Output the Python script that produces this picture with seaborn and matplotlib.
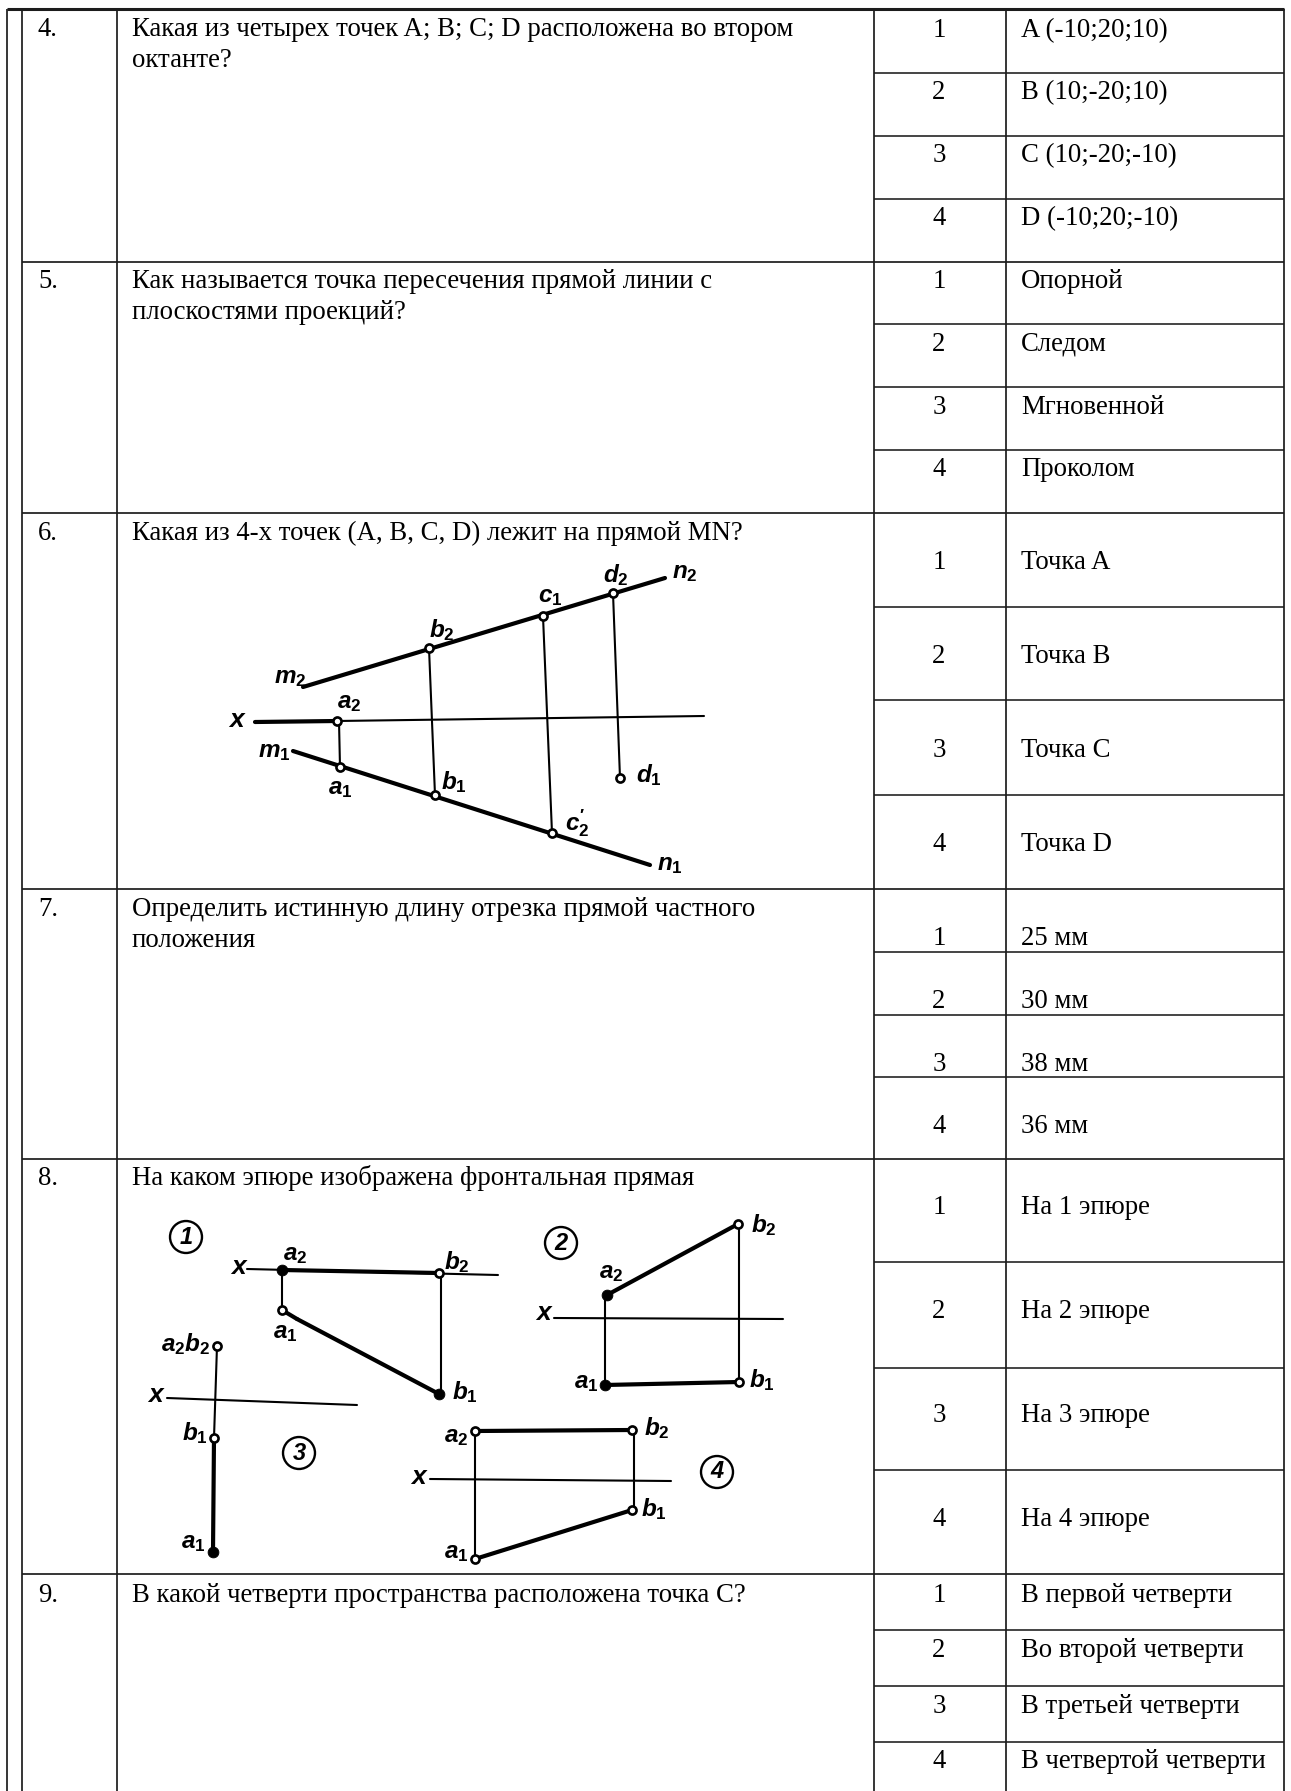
import matplotlib
matplotlib.use('Agg')
import matplotlib.pyplot as plt
import pandas as pd
import seaborn as sns

sns.set_theme(style='white')
plt.rcParams['font.family'] = ['Liberation Serif', 'DejaVu Serif']
plt.rcParams['mathtext.fontset'] = 'custom'
plt.rcParams['mathtext.it'] = 'Liberation Sans:italic:bold'
plt.rcParams['mathtext.rm'] = 'Liberation Sans:bold'

# table rulings, in pixels of the page
col_x = [7, 22, 117, 874, 1006, 1284]
row_y = [262, 513, 889, 1159, 1574]
option_y = [[73, 136, 199], [324, 387, 450], [607, 700, 795],
            [952, 1015, 1077], [1262, 1368, 1470], [1630, 1686, 1742]]

# questions
numbers = ['4.', '5.', '6.', '7.', '8.', '9.']
number_y = [36, 288, 540, 916, 1185, 1602]
questions = [
    'Какая из четырех точек A; B; C; D расположена во втором\nоктанте?',
    'Как называется точка пересечения прямой линии с\nплоскостями проекций?',
    'Какая из 4-х точек (A, B, C, D) лежит на прямой MN?',
    'Определить истинную длину отрезка прямой частного\nположения',
    'На каком эпюре изображена фронтальная прямая',
    'В какой четверти пространства расположена точка С?',
]

# answers
answers = [
    ['A (-10;20;10)', 'B (10;-20;10)', 'C (10;-20;-10)', 'D (-10;20;-10)'],
    ['Опорной', 'Следом', 'Мгновенной', 'Проколом'],
    ['Точка A', 'Точка B', 'Точка C', 'Точка D'],
    ['25 мм', '30 мм', '38 мм', '36 мм'],
    ['На 1 эпюре', 'На 2 эпюре', 'На 3 эпюре', 'На 4 эпюре'],
    ['В первой четверти', 'Во второй четверти', 'В третьей четверти', 'В четвертой четверти'],
]
answer_y = [[37, 99, 162, 225], [288, 351, 414, 476], [569, 663, 757, 851],
            [945, 1008, 1071, 1133], [1214, 1318, 1422, 1526], [1602, 1657, 1713, 1768]]

# drawings: x0, y0, x1, y1
thick_lines = [
    # question 6
    (303, 687, 665, 578), (293, 751, 650, 865), (255, 722, 337, 721),
    # question 8, plot 1
    (282, 1270, 439, 1273), (282, 1310, 297, 1319), (297, 1319, 439, 1394),
    # plot 2
    (607, 1295, 738, 1224), (605, 1385, 739, 1382),
    # plot 3
    (214, 1438, 213, 1552),
    # plot 4
    (475, 1431, 632, 1430), (475, 1559, 632, 1510),
]
thin_lines = [
    (337, 721, 704, 716), (339, 721, 340, 767), (429, 648, 435, 795),
    (543, 616, 552, 833), (613, 593, 620, 778),
    (247, 1269, 498, 1275), (282, 1270, 282, 1310), (441, 1273, 441, 1394),
    (554, 1318, 783, 1319), (605, 1295, 605, 1385), (739, 1224, 739, 1382),
    (167, 1398, 357, 1405), (217, 1346, 214, 1438),
    (430, 1479, 671, 1481), (475, 1431, 475, 1559), (634, 1430, 634, 1510),
]
open_x = [429, 543, 613, 337, 340, 435, 552, 620,
          439, 282, 738, 739, 217, 214, 475, 632, 632, 475]
open_y = [648, 616, 593, 721, 767, 795, 833, 778,
          1273, 1310, 1224, 1382, 1346, 1438, 1431, 1430, 1510, 1559]
solid_x = [282, 439, 607, 605, 213]
solid_y = [1270, 1394, 1295, 1385, 1552]
circle_x = [186, 561, 299, 717]
circle_y = [1237, 1243, 1453, 1472]
circle_text = ['1', '2', '3', '4']

labels = ['x', 'm_2', 'a_2', 'b_2', 'c_1', 'd_2', 'n_2', 'm_1', 'a_1', 'b_1', 'c_2^{\\prime}', 'd_1', 'n_1',
          'x', 'a_2', 'b_2', 'a_1', 'b_1',
          'x', 'a_2', 'b_2', 'a_1', 'b_1',
          'x', 'a_2b_2', 'b_1', 'a_1',
          'x', 'a_2', 'b_2', 'a_1', 'b_1']
label_x = [236, 290, 349, 442, 550, 616, 685, 274, 340, 454, 577, 649, 670,
           238, 295, 457, 285, 465,
           543, 611, 764, 586, 762,
           155, 186, 195, 193,
           418, 456, 657, 456, 654]
label_y = [720, 678, 703, 630, 597, 575, 573, 752, 788, 782, 823, 775, 865,
           1267, 1255, 1262, 1333, 1392,
           1313, 1273, 1225, 1383, 1380,
           1395, 1344, 1433, 1542,
           1477, 1436, 1428, 1553, 1509]


def segments_frame(lines):
    rows = []
    for i, (x0, y0, x1, y1) in enumerate(lines):
        rows.append({'seg': i, 'x': x0, 'y': y0})
        rows.append({'seg': i, 'x': x1, 'y': y1})
    return pd.DataFrame(rows)


fig = plt.figure(figsize=(12.91, 17.91), dpi=100)
ax = fig.add_axes([0, 0, 1, 1])
ax.set_xlim(0, 1291)
ax.set_ylim(1791, 0)
ax.axis('off')

# table grid
ink = '#1c1c1c'
ax.hlines(9, 7, 1284, color=ink, lw=2.2)
ax.vlines(col_x, 9, 1791, color=ink, lw=1.25)
ax.hlines(row_y, 22, 1284, color=ink, lw=1.25)
for rows in option_y:
    ax.hlines(rows, 874, 1284, color=ink, lw=1.15)

# text of the table
text_size = 19.3
for num, ny, q in zip(numbers, number_y, questions):
    ax.text(38, ny, num, fontsize=text_size, va='baseline', color='black')
    for i, line in enumerate(q.split('\n')):
        ax.text(132, ny + 31 * i, line, fontsize=text_size, va='baseline', color='black')

for opts, ys in zip(answers, answer_y):
    for i, (opt, y) in enumerate(zip(opts, ys)):
        ax.text(939, y, str(i + 1), fontsize=text_size, ha='center', va='baseline', color='black')
        ax.text(1021, y, opt, fontsize=text_size, va='baseline', color='black')

# drawings
sns.lineplot(data=segments_frame(thin_lines), x='x', y='y', units='seg', estimator=None,
             sort=False, color='black', lw=1.5, ax=ax, legend=False)
sns.lineplot(data=segments_frame(thick_lines), x='x', y='y', units='seg', estimator=None,
             sort=False, color='black', lw=3.0, ax=ax, legend=False)
sns.scatterplot(x=open_x, y=open_y, s=34, facecolor='white', edgecolor='black',
                linewidth=1.9, ax=ax, zorder=5)
sns.scatterplot(x=solid_x, y=solid_y, s=60, color='black', edgecolor='black', ax=ax, zorder=5)
sns.scatterplot(x=circle_x, y=circle_y, s=530, facecolor='none', edgecolor='black',
                linewidth=1.7, ax=ax, zorder=5)

hand = dict(family=['Liberation Sans', 'DejaVu Sans'], style='italic', weight='bold',
            ha='center', va='center', color='black')
for t, x, y in zip(labels, label_x, label_y):
    # subscripts are upright in the drawings
    if '_' in t:
        parts = t.replace('_1', r'_{\mathrm{1}}').replace('_2', r'_{\mathrm{2}}')
        ax.text(x, y, '$' + parts + '$', fontsize=17.5, **hand)
    else:
        ax.text(x, y, t, fontsize=19, **hand)
for t, x, y in zip(circle_text, circle_x, circle_y):
    ax.text(x, y, t, fontsize=17, **hand)

ax.set_xlim(0, 1291)
ax.set_ylim(1791, 0)
ax.set_xlabel('')
ax.set_ylabel('')
fig.savefig('out.png', dpi=100)
